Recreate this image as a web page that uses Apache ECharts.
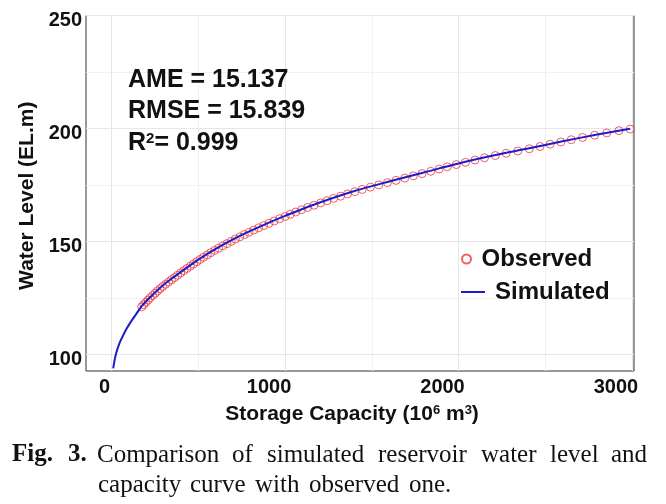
<!DOCTYPE html>
<html>
<head>
<meta charset="utf-8">
<script src="https://cdn.jsdelivr.net/npm/echarts@6/dist/echarts.min.js"></script>
<style>
html,body{margin:0;padding:0;background:#fff;}
#chart{width:666px;height:504px;}
</style>
</head>
<body>
<div id="chart"></div>
<script>
// ---- data ----
const xTickLabels = [0, 1000, 2000, 3000];
const yTickLabels = [100, 150, 200, 250];
const xMajorGrid = [0, 1000, 2000, 3000];
const xMinorGrid = [500, 1500, 2500];
const yMajorGrid = [100, 150, 200, 250];
const yMinorGrid = [125, 175, 225];

// Observed (capacity 10^6 m3, water level EL.m)
const obsCapacity = [173,185,197,210,222,236,250,264,279,294,311,328,345,363,380,398,416,434,453,472,
  491,510,530,551,572,594,617,641,665,689,713,739,765,792,820,848,877,907,937,968,
  1000,1030,1062,1095,1130,1167,1205,1242,1280,1320,1360,1402,1445,1492,1540,1590,1640,1690,1740,1790,
  1840,1888,1935,1987,2040,2095,2150,2212,2275,2342,2408,2470,2528,2590,2650,2715,2785,2855,2925,2990];
const obsLevel = [121,122,123,124,125,126,127,128,129,130,131,132,133,134,135,136,137,138,139,140,
  141,142,143,144,145,146,147,148,149,150,151,152,153,154,155,156,157,158,159,160,
  161,162,163,164,165,166,167,168,169,170,171,172,173,174,175,176,177,178,179,180,
  181,182,183,184,185,186,187,188,189,190,191,192,193,194,195,196,197,198,199,199.7];

// Simulated curve
const simCapacity = [9,14,19,28,38,50,67,85,105,125,144,173,200,250,300,350,400,500,600,700,800,900,1000,1200,1400,1600,1800,2000,2200,2400,2600,2800,2990];
const simLevel = [93.8,96.2,98.2,101,103.4,105.8,108.5,111.2,113.7,116,118.1,121.3,123.6,127.4,130.8,133.7,136.5,141.9,146.7,150.9,154.6,158.1,161.3,167.2,172.3,176.5,180.5,184.5,188,191.1,194.3,197.3,199.9];

const statLines = ['AME = 15.137', 'RMSE = 15.839', 'R{s|2}= 0.999'];

const SANS = 'Liberation Sans, Arial, sans-serif';
const SERIF = 'Liberation Serif, Times New Roman, serif';

const chart = echarts.init(document.getElementById('chart'), null, {renderer: 'canvas'});

function gridLines(vals, axis, color) {
  return vals.map(v => ({[axis]: v, lineStyle: {color: color, width: 1, type: 'solid'}}));
}

const capLine1 = [[12,'Fig.',true],[68,'3.',true],[97,'Comparison'],[232,'of'],[267,'simulated'],[378,'reservoir'],[481,'water'],[550,'level'],[611,'and']];
const capLine2 = [[98,'capacity'],[190,'curve'],[255,'with'],[309,'observed'],[409,'one.']];

const graphics = [];
capLine1.forEach(w => graphics.push({type:'text', x:w[0], y:455, style:{text:w[1], fill:'#111', font:(w[2]?'bold ':'')+'25px '+SERIF, verticalAlign:'middle'}}));
capLine2.forEach(w => graphics.push({type:'text', x:w[0], y:485, style:{text:w[1], fill:'#111', font:'25px '+SERIF, verticalAlign:'middle'}}));

const option = {
  backgroundColor: '#fff',
  animation: false,
  grid: {left: 86, right: 32, top: 15.5, bottom: 133, show: true, borderColor: '#333', borderWidth: 1, backgroundColor: '#fff'},
  title: {
    text: statLines.join('\n'), left: 128, top: 64, padding: 0,
    textStyle: {fontFamily: SANS, fontSize: 25, fontWeight: 'bold', color: '#111', lineHeight: 31.5,
      rich: {s: {fontFamily: SANS, fontSize: 15, fontWeight: 'bold', color: '#111', verticalAlign: 'top', lineHeight: 15, padding: [4,0,0,0]}}}
  },
  legend: [
    {data: ['Observed'], left: 456, top: 242, itemWidth: 24, itemHeight: 9, itemGap: 0,
     textStyle: {fontFamily: SANS, fontSize: 24, fontWeight: 'bold', color: '#111', padding: [0,0,10,-2]}},
    {data: [{name: 'Simulated', icon: 'rect'}], left: 456, top: 275, itemWidth: 24, itemHeight: 2, itemGap: 0,
     textStyle: {fontFamily: SANS, fontSize: 24, fontWeight: 'bold', color: '#111', padding: [0,0,0,5]}}
  ],
  xAxis: {
    type: 'value', min: -148, max: 3012,
    name: '{b|Storage Capacity (10}{s|6}{b| m}{s|3}{b|)}',
    nameLocation: 'middle', nameGap: 31,
    nameTextStyle: {padding: [0,16,0,0], rich: {
      b: {fontFamily: SANS, fontSize: 21, fontWeight: 'bold', color: '#111', lineHeight: 24},
      s: {fontFamily: SANS, fontSize: 13, fontWeight: 'bold', color: '#111', verticalAlign: 'top', lineHeight: 13, padding:[2,0,0,0]}}},
    axisLine: {show: false}, axisTick: {show: false}, splitLine: {show: false},
    axisLabel: {customValues: xTickLabels, margin: 6,
      formatter: v => (v === 0 ? '{z|' + v + '}' : '{n|' + v + '}'),
      rich: {
        z: {fontFamily: SANS, fontSize: 20, fontWeight: 'bold', color: '#111', padding: [0,14,0,0]},
        n: {fontFamily: SANS, fontSize: 20, fontWeight: 'bold', color: '#111', padding: [0,32,0,0]}
      }}
  },
  yAxis: {
    type: 'value', min: 92.6, max: 250,
    name: 'Water Level (EL.m)', nameLocation: 'middle', nameGap: 47, nameRotate: 90,
    nameTextStyle: {fontFamily: SANS, fontSize: 21, fontWeight: 'bold', color: '#111', padding: [0,5,0,0]},
    axisLine: {show: false}, axisTick: {show: false}, splitLine: {show: false},
    axisLabel: {customValues: yTickLabels, margin: 4,
      formatter: v => '{a|' + v + '}',
      rich: {a: {fontFamily: SANS, fontSize: 20, fontWeight: 'bold', color: '#111', padding: [10,0,0,0]}}}
  },
  graphic: graphics,
  series: [
    {name: 'grid', type: 'line', data: [], z: 0, silent: true,
     markLine: {silent: true, z: 1, symbol: ['none','none'], label: {show: false}, animation: false,
       data: [].concat(
         gridLines(xMinorGrid, 'xAxis', '#f1f1f1'),
         gridLines(yMinorGrid, 'yAxis', '#f1f1f1'),
         gridLines(xMajorGrid, 'xAxis', '#e6e6e6'),
         gridLines(yMajorGrid, 'yAxis', '#e6e6e6'))}},
    {name: 'Observed', type: 'scatter', z: 2, symbol: 'circle', symbolSize: 8,
     itemStyle: {color: 'rgba(255,255,255,0)', borderColor: '#e8383d', borderWidth: 1},
     data: obsCapacity.map((c, i) => [c, obsLevel[i]])},
    {name: 'Simulated', type: 'line', z: 3, symbol: 'none', smooth: 0.3,
     lineStyle: {color: '#1c1cc8', width: 2}, itemStyle: {color: '#1c1cc8'},
     data: simCapacity.map((c, i) => [c, simLevel[i]])}
  ]
};
chart.setOption(option);
</script>
</body>
</html>
